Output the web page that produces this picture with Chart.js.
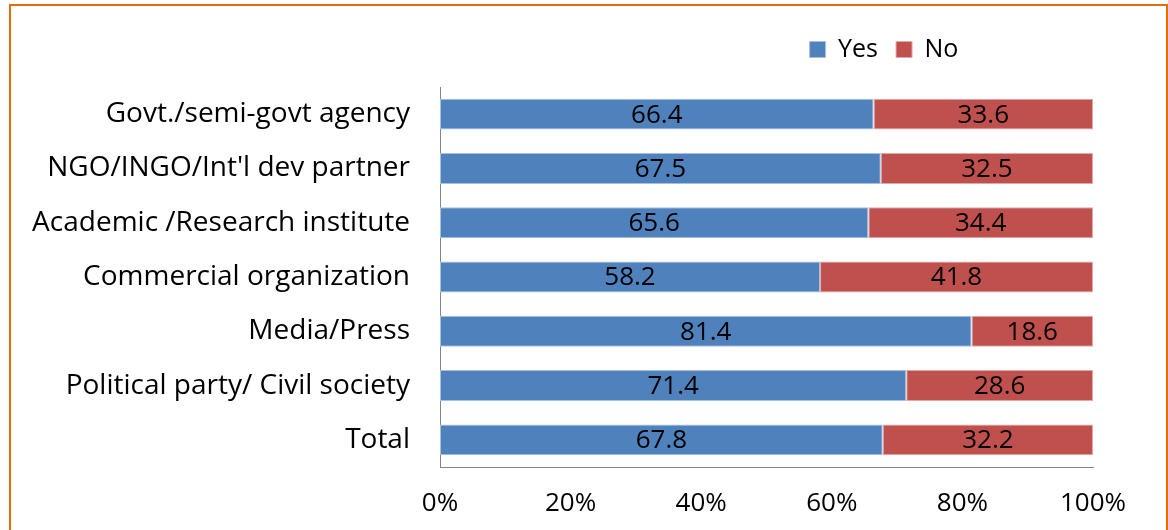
<!DOCTYPE html>
<html>
<head>
<meta charset="utf-8">
<script src="https://cdn.jsdelivr.net/npm/chart.js@4"></script>
<style>
  html, body { margin: 0; padding: 0; background: #fff; }
  #wrap { position: relative; width: 1168px; height: 530px; overflow: hidden; }
  #frame { position: absolute; left: 9px; top: 4px; width: 1155px; height: 600px; border: 2px solid #E46C0A; }
  #barChart { position: absolute; left: 0; top: 0; }
</style>
</head>
<body>
<div id="wrap">
  <div id="frame"></div>
  <canvas id="barChart" width="1168" height="530"></canvas>
</div>
<script>
// Chart data
const categories = [
    'Govt./semi-govt agency',
    'NGO/INGO/Int\'l dev partner',
    'Academic /Research institute',
    'Commercial organization',
    'Media/Press',
    'Political party/ Civil society',
    'Total'
];
const yesValues = [66.4, 67.5, 65.6, 58.2, 81.4, 71.4, 67.8];
const noValues = [33.6, 32.5, 34.4, 41.8, 18.6, 28.6, 32.2];
const tickValues = [0, 20, 40, 60, 80, 100];

const FONT = '"Open Sans", sans-serif';

// Write the value in the middle of each bar segment
const barLabels = {
    id: 'barLabels',
    afterDatasetsDraw(chart) {
        const ctx = chart.ctx;
        ctx.save();
        ctx.font = '26px ' + FONT;
        ctx.fillStyle = '#000';
        ctx.textAlign = 'center';
        ctx.textBaseline = 'middle';
        chart.data.datasets.forEach((ds, i) => {
            chart.getDatasetMeta(i).data.forEach((bar, j) => {
                const p = bar.getProps(['x', 'y', 'base'], true);
                ctx.fillText(ds.data[j].toFixed(1), (p.x + p.base) / 2, p.y + 1);
            });
        });
        ctx.restore();
    }
};

// Move the legend so it sits above the right part of the plot, like the original
const legendSpot = {
    id: 'legendSpot',
    afterLayout(chart) {
        const lg = chart.legend;
        const w = lg.right - lg.left;
        const center = 884;
        lg.left = center - w / 2;
        lg.right = center + w / 2;
        lg.top -= 15;
        lg.bottom -= 15;
    }
};

const ctx = document.getElementById('barChart').getContext('2d');
const barChart = new Chart(ctx, {
    type: 'bar',
    data: {
        labels: categories,
        datasets: [{
            label: 'Yes',
            data: yesValues,
            backgroundColor: '#4F81BD',
            borderColor: '#A7C0DE',
            borderWidth: 1,
            borderSkipped: false
        }, {
            label: 'No',
            data: noValues,
            backgroundColor: '#C0504D',
            borderColor: '#E0A9A7',
            borderWidth: 1,
            borderSkipped: false
        }]
    },
    plugins: [barLabels, legendSpot],
    options: {
        indexAxis: 'y',
        responsive: false,
        animation: false,
        barPercentage: 0.57,
        categoryPercentage: 1,
        layout: { padding: { left: 10, right: 75, top: 34, bottom: 0 } },
        plugins: {
            tooltip: { enabled: false },
            legend: {
                position: 'top',
                align: 'center',
                fullSize: false,
                labels: {
                    color: '#000',
                    font: { family: FONT, size: 25 },
                    boxWidth: 16,
                    boxHeight: 16,
                    padding: 18
                }
            }
        },
        scales: {
            x: {
                stacked: true,
                min: 0,
                max: 100,
                afterBuildTicks(scale) {
                    scale.ticks = tickValues.map(v => ({ value: v }));
                },
                afterFit(scale) { scale.height = 63; },
                grid: { display: false, drawTicks: false },
                border: { display: true, color: '#868686', width: 1 },
                ticks: {
                    color: '#000',
                    padding: 21,
                    maxRotation: 0,
                    font: { family: FONT, size: 26 },
                    callback: v => v + '%'
                }
            },
            y: {
                stacked: true,
                afterFit(scale) { scale.width = 430; },
                grid: { display: false, drawTicks: false },
                border: { display: true, color: '#868686', width: 1 },
                ticks: {
                    color: '#000',
                    padding: 30,
                    font: { family: FONT, size: 28 }
                }
            }
        }
    }
});
</script>
</body>
</html>
